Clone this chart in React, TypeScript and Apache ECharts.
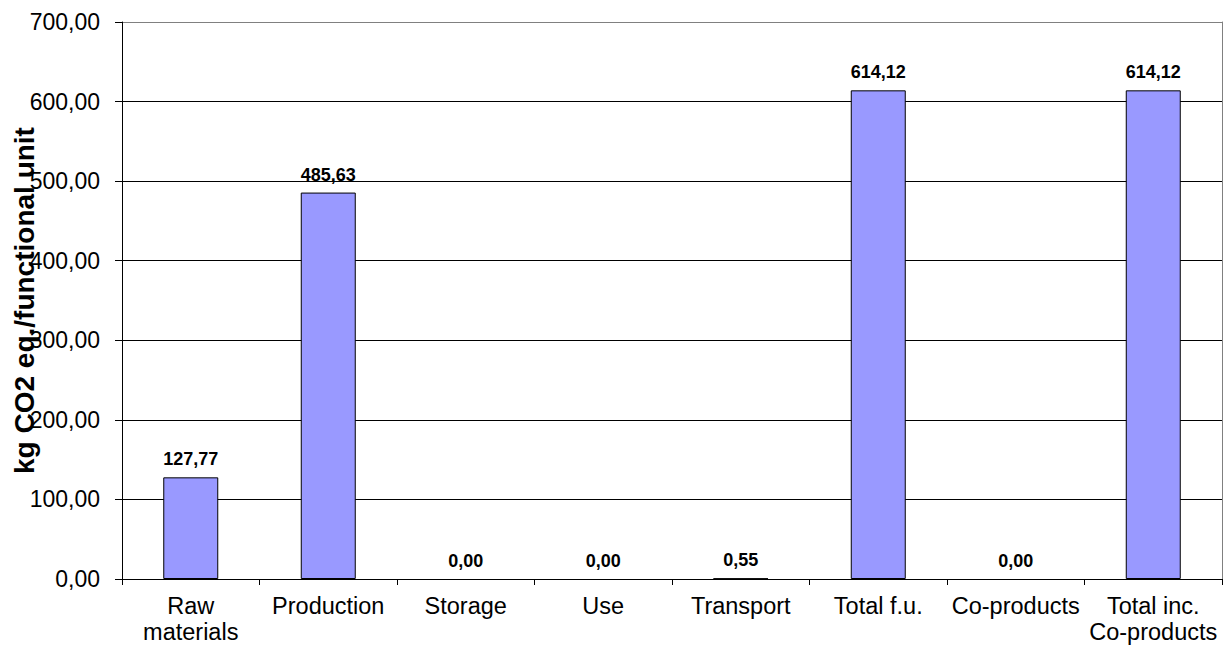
import React, { useEffect, useRef } from "react";
import * as echarts from "echarts";

// Life-cycle stages and their emissions (kg CO2 eq. per functional unit)
const categories = [
  "Raw\nmaterials",
  "Production",
  "Storage",
  "Use",
  "Transport",
  "Total f.u.",
  "Co-products",
  "Total inc.\nCo-products",
];
const emissions = [127.77, 485.63, 0.0, 0.0, 0.55, 614.12, 0.0, 614.12];

const yMin = 0;
const yMax = 700;
const yStep = 100;

const FONT = "'Liberation Sans', Arial, sans-serif";
const fmt = (v: number) => v.toFixed(2).replace(".", ",");

export default function App() {
  const ref = useRef<HTMLDivElement>(null);

  useEffect(() => {
    document.body.style.margin = "0";
    if (!ref.current) return;
    const chart = echarts.init(ref.current, undefined, { renderer: "svg" });

    const gridColors = ["#000", "#000", "#000", "#000", "#000", "#000", "#000", "#808080"];

    // zero-height bars get no outline, so only the label shows
    const barData = emissions.map((v) => ({
      value: v,
      itemStyle: v === 0 ? { borderWidth: 0 } : undefined,
    }));

    chart.setOption({
      animation: false,
      backgroundColor: "#fff",
      textStyle: { fontFamily: FONT },
      grid: {
        left: 122,
        right: 4,
        top: 22,
        bottom: 69,
        containLabel: false,
        outerBoundsMode: "none",
      },
      xAxis: {
        type: "category",
        data: categories,
        boundaryGap: true,
        axisLine: { show: true, lineStyle: { color: "#000", width: 1 } },
        axisTick: { show: true, length: 6, alignWithLabel: false, lineStyle: { color: "#000" } },
        axisLabel: {
          interval: 0,
          margin: 14,
          fontSize: 23.5,
          lineHeight: 26,
          color: "#000",
          fontFamily: FONT,
        },
        splitLine: { show: false },
      },
      yAxis: [
        {
          type: "value",
          min: yMin,
          max: yMax,
          interval: yStep,
          name: "kg CO2 eq./functional unit",
          nameLocation: "middle",
          nameMoveOverlap: false,
          nameGap: 84,
          nameRotate: 90,
          nameTextStyle: {
            fontSize: 28,
            fontWeight: "bold",
            color: "#000",
            fontFamily: FONT,
          },
          axisLine: { show: true, lineStyle: { color: "#000", width: 1 } },
          axisTick: { show: true, length: 7, inside: false, lineStyle: { color: "#000" } },
          axisLabel: {
            margin: 22,
            fontSize: 23,
            color: "#000",
            fontFamily: FONT,
            formatter: (v: number) => fmt(v),
          },
          splitLine: { show: true, lineStyle: { color: gridColors, width: 1 } },
        },
        {
          type: "value",
          position: "right",
          min: yMin,
          max: yMax,
          interval: yStep,
          axisLine: { show: true, lineStyle: { color: "#808080", width: 1 } },
          axisTick: { show: false },
          axisLabel: { show: false },
          splitLine: { show: false },
        },
      ],
      series: [
        {
          type: "bar",
          yAxisIndex: 0,
          data: barData,
          barWidth: "40%",
          itemStyle: { color: "#9999FF", borderColor: "#000", borderWidth: 1 },
          label: {
            show: true,
            position: "top",
            distance: 9,
            fontSize: 18,
            fontWeight: "bold",
            color: "#000",
            fontFamily: FONT,
            formatter: (p: any) => fmt(p.value),
          },
        },
      ],
    });

    return () => chart.dispose();
  }, []);

  return <div ref={ref} style={{ width: 1226, height: 648 }} />;
}
